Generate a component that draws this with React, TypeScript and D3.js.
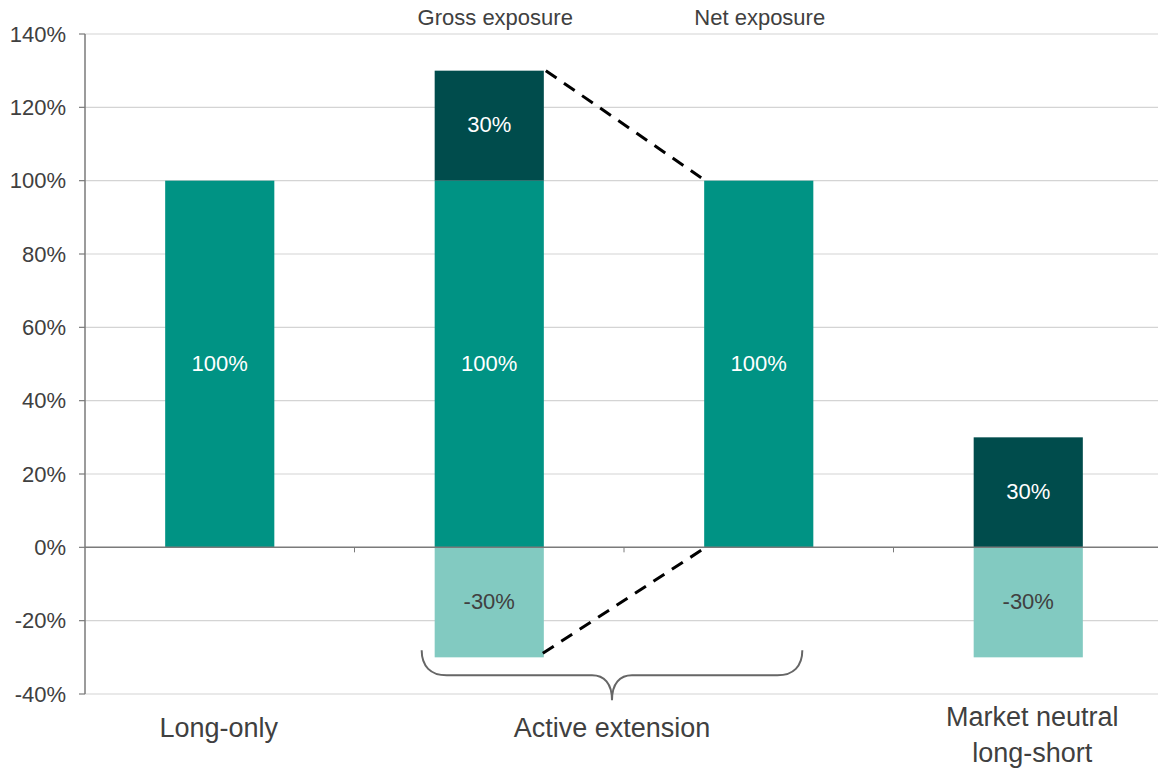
import * as d3 from "d3";

// slots along the x axis
const slots = ["longOnly", "gross", "net", "marketNeutral"];
// stacked segments (percent)
const coreLong = [100, 100, 100, 0];
const extraLong = [0, 30, 0, 30];
const shortPos = [0, -30, 0, -30];

const yTicks = [-40, -20, 0, 20, 40, 60, 80, 100, 120, 140];

const topLabels = [
    { slot: "gross", text: "Gross exposure" },
    { slot: "net", text: "Net exposure" },
];

const width = 1158;
const height = 769;
const marginLeft = 85;
const marginRight = -5;
const yTop = 34;
const yBottom = 694;

const colors = { core: "#009384", extra: "#004c4c", short: "#82cac1" };
const textColor = "#404040";
const font = "'Liberation Sans', Arial, sans-serif";

export default function App() {
    const xScale = d3.scaleBand<string>()
        .domain(slots)
        .range([marginLeft, width - marginRight])
        .padding(0);

    const yScale = d3.scaleLinear()
        .domain([-40, 140])
        .range([yBottom, yTop]);

    const barW = xScale.bandwidth() * 0.405;
    const barX = (s: string) => (xScale(s) ?? 0) + (xScale.bandwidth() - barW) / 2;
    const fmt = (v: number) => `${v}%`;

    const segments = slots.flatMap((s, i) => {
        const out: { slot: string; y0: number; y1: number; v: number; fill: string; label: string }[] = [];
        if (coreLong[i]) out.push({ slot: s, y0: 0, y1: coreLong[i], v: coreLong[i], fill: colors.core, label: "#ffffff" });
        if (extraLong[i]) out.push({ slot: s, y0: coreLong[i], y1: coreLong[i] + extraLong[i], v: extraLong[i], fill: colors.extra, label: "#ffffff" });
        if (shortPos[i]) out.push({ slot: s, y0: shortPos[i], y1: 0, v: shortPos[i], fill: colors.short, label: textColor });
        return out;
    });

    const gi = slots.indexOf("gross");
    const ni = slots.indexOf("net");
    const grossRight = barX("gross") + barW;
    const netLeft = barX("net");

    // curly brace under Active extension
    const bL = barX("gross") - 13;
    const bR = barX("net") + barW - 11;
    const bC = (bL + bR) / 2;
    const bTop = yScale(-30) - 7;
    const bMid = bTop + 25;
    const bTip = bMid + 25;
    const bracePath = [
        `M${bL},${bTop}`,
        `C${bL},${bTop + 16} ${bL + 9},${bMid} ${bL + 25},${bMid}`,
        `H${bC - 20}`,
        `C${bC - 8},${bMid} ${bC},${bMid + 8} ${bC},${bTip}`,
        `C${bC},${bMid + 8} ${bC + 8},${bMid} ${bC + 20},${bMid}`,
        `H${bR - 25}`,
        `C${bR - 9},${bMid} ${bR},${bTop + 16} ${bR},${bTop}`,
    ].join(" ");

    return (
        <svg width={width} height={height} style={{ position: "absolute", left: 0, top: 0 }}
             fontFamily={font}>
            {/* gridlines */}
            {yTicks.filter(t => t !== 0).map(t => (
                <line key={t} x1={marginLeft} x2={width} y1={yScale(t)} y2={yScale(t)}
                      stroke="#d4d4d4" strokeWidth={1.2} />
            ))}

            {/* bars */}
            {segments.map((d, i) => (
                <g key={i}>
                    <rect x={barX(d.slot)} width={barW} y={yScale(d.y1)} height={yScale(d.y0) - yScale(d.y1)}
                          fill={d.fill} />
                    <text x={barX(d.slot) + barW / 2} y={(yScale(d.y0) + yScale(d.y1)) / 2 - 1}
                          dy="0.35em" textAnchor="middle" fontSize={22} fill={d.label}>{fmt(d.v)}</text>
                </g>
            ))}

            {/* zero line and category ticks */}
            <line x1={marginLeft} x2={width} y1={yScale(0)} y2={yScale(0)} stroke="#7a7a7a" strokeWidth={1.5} />
            {slots.slice(1).map(s => (
                <line key={s} x1={xScale(s)} x2={xScale(s)} y1={yScale(0)} y2={yScale(0) + 5}
                      stroke="#7a7a7a" strokeWidth={1} />
            ))}

            {/* y axis */}
            <line x1={marginLeft} x2={marginLeft} y1={yScale(140)} y2={yScale(-40)} stroke="#7a7a7a" strokeWidth={1.5} />
            {yTicks.map(t => (
                <g key={t}>
                    <line x1={marginLeft - 6} x2={marginLeft} y1={yScale(t)} y2={yScale(t)} stroke="#7a7a7a" strokeWidth={1.2} />
                    <text x={66} y={yScale(t)} dy="0.35em" textAnchor="end" fontSize={22} fill={textColor}>{fmt(t)}</text>
                </g>
            ))}

            {/* connectors */}
            <line x1={grossRight + 2} y1={yScale(coreLong[gi] + extraLong[gi])} x2={netLeft - 3} y2={yScale(coreLong[ni]) - 3}
                  stroke="#000" strokeWidth={3} strokeDasharray="13 9" />
            <line x1={grossRight - 1} y1={yScale(shortPos[gi]) - 4} x2={netLeft - 3} y2={yScale(0) + 3}
                  stroke="#000" strokeWidth={3} strokeDasharray="13 9" />

            {/* top labels */}
            {topLabels.map(d => (
                <text key={d.slot} x={barX(d.slot) + barW / 2 + (d.slot === "gross" ? 6 : 1)} y={25}
                      textAnchor="middle" fontSize={22} fill={textColor}>{d.text}</text>
            ))}

            {/* brace */}
            <path d={bracePath} fill="none" stroke="#666" strokeWidth={2} />

            {/* category labels */}
            <text x={barX("longOnly") + barW / 2 - 1} y={737} textAnchor="middle" fontSize={27} fill={textColor}>Long-only</text>
            <text x={bC} y={737} textAnchor="middle" fontSize={27} fill={textColor}>Active extension</text>
            <text x={barX("marketNeutral") + barW / 2 + 4} y={726} textAnchor="middle" fontSize={27} fill={textColor}>
                <tspan x={barX("marketNeutral") + barW / 2 + 4}>Market neutral</tspan>
                <tspan x={barX("marketNeutral") + barW / 2 + 4} dy={36}>long-short</tspan>
            </text>
        </svg>
    );
}
